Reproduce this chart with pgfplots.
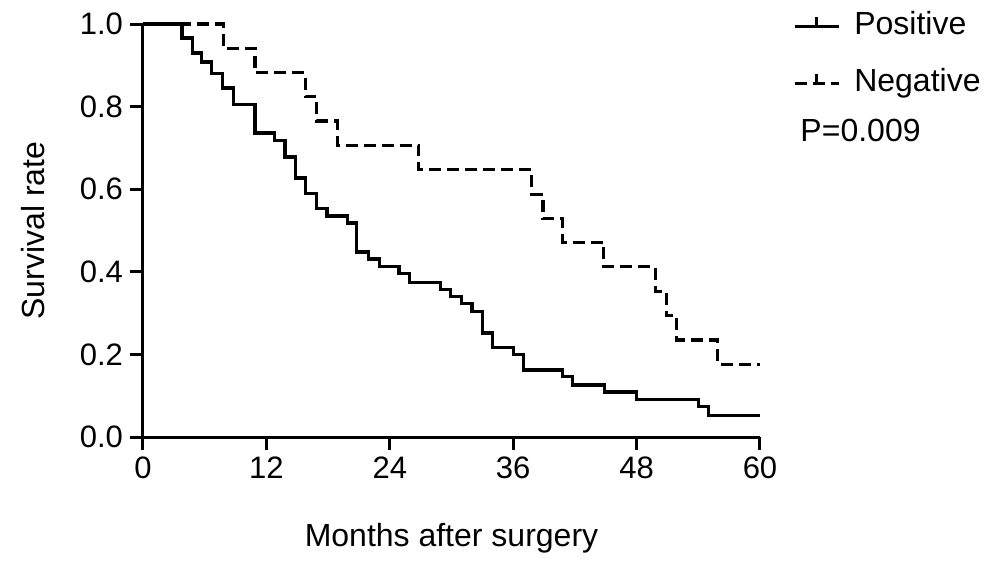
\documentclass[border=0pt]{standalone}
\usepackage{fontspec}
\setmainfont{Liberation Sans}
\usepackage{pgfplots}
\pgfplotsset{compat=1.18}

\newcommand{\lbl}{\fontsize{16}{19}\selectfont}
\newcommand{\tck}{\fontsize{15.5}{18}\selectfont}

\begin{document}
\begin{tikzpicture}
  \begin{axis}[
    name=ax,
    scale only axis,
    width=308.5pt, height=206.5pt,
    xmin=0, xmax=60, ymin=0, ymax=1,
    axis lines=left,
    axis line style={-, line width=1.5pt},
    every tick/.style={black, line width=1.5pt},
    tick align=outside,
    major tick length=6.5pt,
    xtick={0,12,24,36,48,60},
    ytick={0,0.2,0.4,0.6,0.8,1.0},
    yticklabel style={/pgf/number format/.cd, fixed, fixed zerofill, precision=1},
    /pgf/number format/assume math mode=true,
    tick label style={font=\tck},
    label style={font=\lbl},
    xlabel={Months after surgery},
    ylabel={Survival rate},
    xlabel style={at={(axis description cs:0.5,-0.245)}, anchor=center},
    ylabel style={at={(axis description cs:-0.178,0.5)}, anchor=center},
    clip=false,
    legend style={draw=none, fill=none, font=\lbl,
      at={(axis description cs:1.053,1.04)}, anchor=north west,
      row sep=9.5pt, inner sep=0pt,
      nodes={text height=11.5pt, text depth=3.5pt, inner sep=2pt}},
    legend cell align=left,
    legend image code/.code={
      \draw[#1] (0pt,0pt) -- (22pt,0pt);
      \draw[#1, solid] (11pt,0pt) -- (11pt,5pt);
      \path (27pt,0pt);
    },
  ]
  % Positive
  \addplot[const plot, black, line width=1.6pt] coordinates {
    (0,1) (3.8,0.966) (4.8,0.93) (5.7,0.908) (6.7,0.88) (7.7,0.845)
    (8.8,0.806) (10.9,0.736) (12.8,0.717) (13.8,0.678) (14.8,0.627)
    (15.8,0.59) (16.9,0.553) (17.9,0.535) (19.9,0.518) (20.8,0.448)
    (21.9,0.431) (23.0,0.412) (24.9,0.395) (25.9,0.375) (28.9,0.358)
    (29.9,0.341) (31.0,0.324) (32.0,0.303) (33.0,0.252) (34.0,0.216)
    (36.0,0.199) (37.0,0.162) (40.8,0.146) (41.8,0.126) (44.9,0.109)
    (48.0,0.09) (54.0,0.073) (55.0,0.053) (60,0.053)
  };
  \addlegendentry{Positive}
  % Negative
  \addplot[const plot, black, line width=1.6pt, dash pattern=on 6pt off 3pt] coordinates {
    (0,1) (7.8,0.941) (10.9,0.882) (15.8,0.824) (16.9,0.765) (18.9,0.706)
    (26.8,0.647) (37.8,0.588) (38.9,0.529) (40.8,0.471) (44.8,0.412)
    (49.8,0.353) (50.9,0.294) (51.9,0.235) (55.9,0.176) (60,0.176)
  };
  \addlegendentry{Negative}
  \node[font=\lbl, anchor=west, inner sep=0pt] at (axis description cs:1.065,0.743) {P=0.009};
  \end{axis}
  \pgfresetboundingbox
  \path (ax.south west) ++(-71.5pt,-63pt) rectangle ++(496pt,281.5pt);
\end{tikzpicture}
\end{document}
